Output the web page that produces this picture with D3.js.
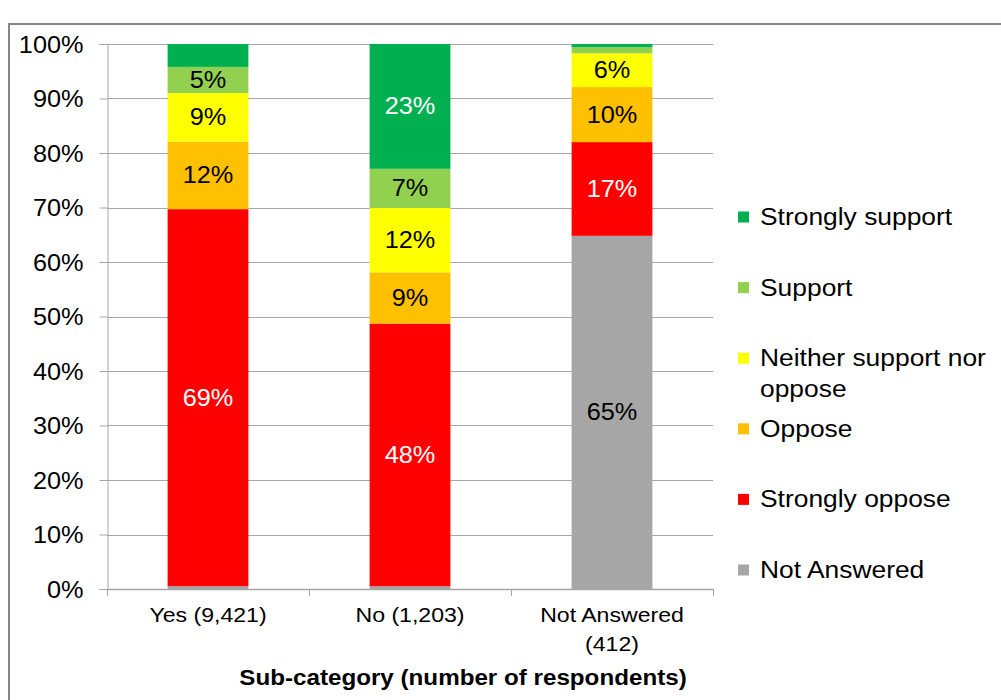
<!DOCTYPE html>
<html>
<head>
<meta charset="utf-8">
<script src="https://cdn.jsdelivr.net/npm/d3@7/dist/d3.min.js"></script>
<style>
  html, body { margin: 0; padding: 0; background: #fff; }
  svg { display: block; font-family: "Liberation Sans", Arial, sans-serif; }
</style>
</head>
<body>
<svg id="chart" width="1001" height="700"></svg>
<script>
// Sub-categories (x axis) — "\n" marks a line break in the tick label
const categories = ["Yes (9,421)", "No (1,203)", "Not Answered\n(412)"];

// Response shares per sub-category, in percent (bottom of stack first)
const notAnswered     = [0.5, 0.5, 64.8];
const stronglyOppose  = [69.2, 48.2, 17.2];
const oppose          = [12.4, 9.4, 10.1];
const neither         = [8.9, 11.8, 6.2];
const support         = [4.8, 7.2, 1.1];
const stronglySupport = [4.2, 22.9, 0.6];

// Series in stacking order; legend lists them top to bottom in reverse
const seriesKeys  = ["notAnswered", "stronglyOppose", "oppose",
                     "neither", "support", "stronglySupport"];
const seriesLabels = ["Not Answered", "Strongly oppose", "Oppose",
                      "Neither support nor\noppose", "Support", "Strongly support"];
const seriesColors = ["#A6A6A6", "#FF0000", "#FFC000", "#FFFF00", "#92D050", "#00B050"];
const labelColors  = ["#000", "#fff", "#000", "#000", "#000", "#fff"];

// y-axis tick values (fractions)
const yTicks = [0, 0.1, 0.2, 0.3, 0.4, 0.5, 0.6, 0.7, 0.8, 0.9, 1.0];

const seriesValues = {notAnswered, stronglyOppose, oppose, neither, support, stronglySupport};
const rows = categories.map((c, i) => {
  const r = {category: c};
  seriesKeys.forEach(k => r[k] = seriesValues[k][i]);
  return r;
});

const svg = d3.select("#chart");
const SX = 1.1;  // horizontal text stretch
function placeText(sel, x, y) {
  return sel.attr("x", 0).attr("y", 0)
    .attr("transform", `translate(${x},${y}) scale(${SX},1)`);
}

const plot = {left: 107, right: 713, top: 44, bottom: 589};

const x = d3.scaleBand()
  .domain(categories)
  .range([plot.left, plot.right])
  .paddingInner(0.6)
  .paddingOuter(0.3);

const y = d3.scaleLinear().domain([0, 1]).range([plot.bottom, plot.top]);

const stack = d3.stack().keys(seriesKeys).offset(d3.stackOffsetExpand);
const layers = stack(rows);

// chart frame
svg.append("rect")
  .attr("x", 9).attr("y", 24).attr("width", 1200).attr("height", 900)
  .attr("fill", "none").attr("stroke", "#868686").attr("stroke-width", 2);

// gridlines
svg.append("g").selectAll("line").data(yTicks.slice(1)).join("line")
  .attr("x1", plot.left).attr("x2", plot.right)
  .attr("y1", d => Math.round(y(d)) + 0.5).attr("y2", d => Math.round(y(d)) + 0.5)
  .attr("stroke", "#A6A6A6").attr("stroke-width", 1);

// y axis
const yAxis = svg.append("g").attr("transform", `translate(${plot.left + 0.5},0)`)
  .call(d3.axisLeft(y).tickValues(yTicks).tickFormat(d3.format(".0%")).tickSize(8).tickPadding(16));
yAxis.select(".domain").attr("stroke", "#A6A6A6");
yAxis.selectAll(".tick line").attr("stroke", "#A6A6A6");
yAxis.selectAll(".tick text")
  .attr("font-size", 23).attr("fill", "#000")
  .attr("font-family", "Liberation Sans, Arial, sans-serif")
  .attr("dy", "0.35em")
  .attr("transform", function() {
    const xx = +d3.select(this).attr("x");
    return `translate(${xx},0) scale(${SX},1)`;
  })
  .attr("x", 0);

// bars
const layerG = svg.append("g").selectAll("g").data(layers).join("g")
  .attr("fill", (d, i) => seriesColors[i]);
layerG.selectAll("rect").data(d => d).join("rect")
  .attr("x", d => x(d.data.category))
  .attr("width", x.bandwidth())
  .attr("y", d => y(d[1]))
  .attr("height", d => y(d[0]) - y(d[1]));

// value labels
const pct = d3.format(".0%");
layers.forEach((layer, i) => {
  layer.forEach(d => {
    const share = d[1] - d[0];
    if (share < 0.045) return;
    const cx = x(d.data.category) + x.bandwidth() / 2;
    const cy = (y(d[0]) + y(d[1])) / 2;
    placeText(svg.append("text"), cx, cy + 8)
      .attr("text-anchor", "middle")
      .attr("font-size", 23)
      .attr("fill", labelColors[i])
      .text(pct(share));
  });
});

// x axis line and ticks at band boundaries
const xAxisG = svg.append("g");
xAxisG.append("line")
  .attr("x1", plot.left).attr("x2", plot.right)
  .attr("y1", plot.bottom + 0.5).attr("y2", plot.bottom + 0.5)
  .attr("stroke", "#A6A6A6").attr("stroke-width", 1.5);
const bounds = [plot.left].concat(categories.map(c => x(c) + x.bandwidth() / 2 + x.step() / 2));
xAxisG.selectAll("line.tk").data(bounds).join("line").attr("class", "tk")
  .attr("x1", d => Math.round(d) + 0.5).attr("x2", d => Math.round(d) + 0.5)
  .attr("y1", plot.bottom).attr("y2", plot.bottom + 7)
  .attr("stroke", "#A6A6A6");

// category labels
categories.forEach(c => {
  const cx = x(c) + x.bandwidth() / 2;
  c.split("\n").forEach((line, j) => {
    placeText(svg.append("text"), cx, 622 + j * 29)
      .attr("text-anchor", "middle")
      .attr("font-size", 21)
      .attr("fill", "#000")
      .text(line);
  });
});

// axis title
placeText(svg.append("text"), 463, 685)
  .attr("text-anchor", "middle")
  .attr("font-size", 22)
  .attr("font-weight", "bold")
  .attr("fill", "#000")
  .text("Sub-category (number of respondents)");

// legend (top item = last stacked series)
const legendY = d3.scalePoint()
  .domain(seriesKeys.slice().reverse())
  .range([217, 570]);
seriesKeys.forEach((k, i) => {
  const cy = legendY(k);
  svg.append("rect")
    .attr("x", 738).attr("y", cy - 5.5).attr("width", 11).attr("height", 11)
    .attr("fill", seriesColors[i]);
  seriesLabels[i].split("\n").forEach((line, j) => {
    placeText(svg.append("text"), 760, cy + 8 + j * 31)
      .attr("font-size", 24)
      .attr("fill", "#000")
      .text(line);
  });
});
</script>
</body>
</html>
